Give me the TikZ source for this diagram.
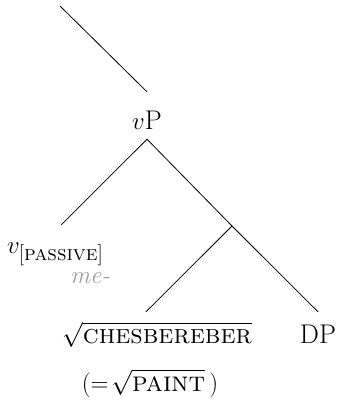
\documentclass[tikz,border=0pt]{standalone}
\usepackage{tikz}
\begin{document}
\begin{tikzpicture}[x=1pt,y=-1pt,
  lbl/.style={font=\fontsize{27}{30}\selectfont, inner sep=0pt},
  edge/.style={line width=0.8pt}]
\useasboundingbox (0,0) rectangle (340,400);
% nodes
\coordinate (top) at (60,6);
\node[lbl, anchor=base, text height=37pt, text depth=10pt] (vP) at (147,129) {$v$P};
\node[lbl, anchor=base west, text height=28pt, font=\fontsize{30}{32}\selectfont] (v) at (7,253)
  {$v_{\hbox{\fontsize{21}{24}\selectfont[\textsc{passive}]}}$};
\node[lbl, anchor=base west, text=black!38, font=\fontsize{25}{28}\selectfont\itshape] (me) at (70,283) {me-};
\coordinate (mid) at (232,226);
\node[lbl, anchor=base, text height=31pt] (DP) at (318,343) {DP};
\node[lbl, anchor=base, text height=31pt, text depth=0pt] (root) at (157,343) {$\sqrt{\textsc{chesbereber}}$};
\node[lbl, anchor=base, font=\fontsize{28}{30}\selectfont] (gloss) at (150,391) {$(=\!\sqrt{\textsc{paint}}\,)$};
% edges
\draw[edge] (top) -- (vP.north);
\draw[edge] (vP.south) -- ([xshift=6pt]v.north);
\draw[edge] (vP.south) -- (mid);
\draw[edge] (mid) -- (DP.north);
\draw[edge] (mid) -- ([xshift=-11pt]root.north);
\end{tikzpicture}
\end{document}
